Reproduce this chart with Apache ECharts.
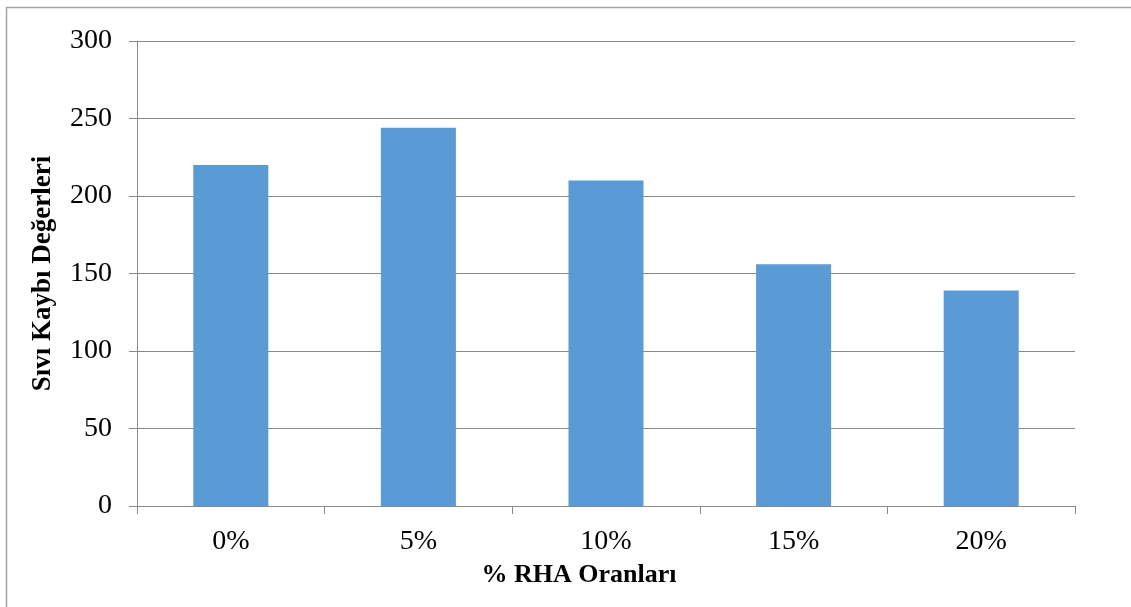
<!DOCTYPE html>
<html>
<head>
<meta charset="utf-8">
<script src="https://cdn.jsdelivr.net/npm/echarts@6/dist/echarts.min.js"></script>
<style>
  html, body { margin: 0; padding: 0; background: #ffffff; }
  #chart { width: 1131px; height: 607px; }
</style>
</head>
<body>
<div id="chart"></div>
<script>
// RHA ratios and fluid loss values
const categories = ['0%', '5%', '10%', '15%', '20%'];
const fluidLoss = [220, 244, 210, 156, 139];
const yTicks = { min: 0, max: 300, interval: 50 };

const serif = '"Liberation Serif", "Times New Roman", serif';
const gray = '#898989';

const chart = echarts.init(document.getElementById('chart'), null, { renderer: 'canvas' });

chart.setOption({
  animation: false,
  backgroundColor: '#ffffff',
  grid: { left: 137, right: 56, top: 41, bottom: 101, containLabel: false },
  graphic: [
    {
      type: 'polyline',
      shape: { points: [[6.5, 607], [6.5, 7.5], [1131, 7.5]] },
      style: { stroke: '#a6a6a6', lineWidth: 1.5, fill: null },
      silent: true
    }
  ],
  xAxis: {
    type: 'category',
    data: categories,
    name: '% RHA Oranları',
    nameLocation: 'middle',
    nameGap: 56,
    nameTextStyle: {
      fontFamily: serif, fontSize: 26, fontWeight: 'bold', color: '#000',
      padding: [0, 54, 0, 0]
    },
    axisLine: { show: true, lineStyle: { color: gray, width: 1 } },
    axisTick: { show: true, length: 8, inside: false, alignWithLabel: false, lineStyle: { color: gray } },
    axisLabel: { fontFamily: serif, fontSize: 28, color: '#000', margin: 22 },
    splitLine: { show: false }
  },
  yAxis: {
    type: 'value',
    min: yTicks.min,
    max: yTicks.max,
    interval: yTicks.interval,
    name: 'Sıvı Kaybı Değerleri',
    nameLocation: 'middle',
    nameGap: 80,
    nameRotate: 90,
    nameTextStyle: { fontFamily: serif, fontSize: 27, fontWeight: 'bold', color: '#000' },
    axisLine: { show: true, lineStyle: { color: gray, width: 1 } },
    axisTick: { show: true, length: 8, inside: false, lineStyle: { color: gray } },
    axisLabel: { fontFamily: serif, fontSize: 28, color: '#000', margin: 25 },
    splitLine: { show: true, lineStyle: { color: gray, width: 1 } }
  },
  series: [
    {
      type: 'bar',
      data: fluidLoss,
      barWidth: '40%',
      itemStyle: { color: '#5b9bd5' }
    }
  ]
});
</script>
</body>
</html>
